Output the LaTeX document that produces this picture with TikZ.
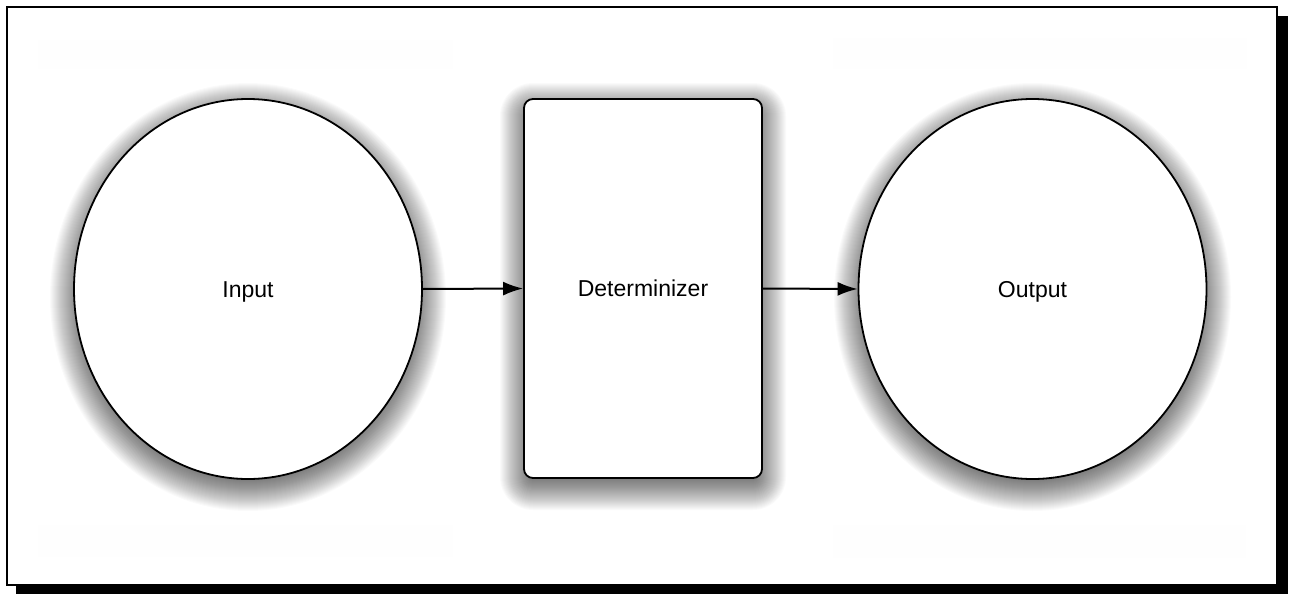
\documentclass[tikz,border=0pt]{standalone}
\usepackage{fontspec}
\setmainfont{Liberation Sans}
\usetikzlibrary{shapes.geometric,arrows.meta}
\tikzset{
  shadelayer/.style={fill=black, opacity=0.021, draw=none},
  blob/.style={ellipse, draw=black, line width=1.8pt, fill=white, minimum width=348pt, minimum height=380pt, inner sep=0pt, text height=16.5pt, text depth=0pt, font=\fontsize{23}{27}\selectfont},
  block/.style={rectangle, rounded corners=9pt, draw=black, line width=1.8pt, fill=white, minimum width=238pt, minimum height=379pt, inner sep=0pt, text height=16.5pt, text depth=0pt, font=\fontsize{23}{27}\selectfont},
  flow/.style={line width=2pt, -{Latex[length=20pt,width=14pt]}},
  ghost/.style={fill=black!0.5, draw=none}
}
\begin{document}
\begin{tikzpicture}[x=1pt,y=-1pt]
\useasboundingbox (0,0) rectangle (1290,594);
\fill[black] (16,16) rectangle (1288,595);
\draw[line width=2pt, fill=white] (7,7) rectangle (1277,585);
\fill[ghost] (38,40) rectangle (453,69);
\fill[ghost] (833,38) rectangle (1247,69);
\fill[ghost] (38,525) rectangle (453,557);
\fill[ghost] (833,525) rectangle (1246,558);
% soft shadows
\foreach \r in {-8,-7,...,24}{
  \fill[shadelayer] (248,297) ellipse [x radius={174+\r}, y radius={190+\r}];
  \fill[shadelayer] (1032.5,297) ellipse [x radius={174.5+\r}, y radius={190+\r}];
  \fill[shadelayer, rounded corners={max(9+\r,1)}] ({524-\r},{107-\r}) rectangle ({762+\r},{486+\r});
}
\node[blob] (in) at (248,289) {Input};
\node[block] (det) at (643,288.5) {Determinizer};
\node[blob] (out) at (1032.5,289) {Output};
\draw[flow] (in.east) -- (det.west);
\draw[flow] (det.east) -- (out.west);
\end{tikzpicture}
\end{document}
